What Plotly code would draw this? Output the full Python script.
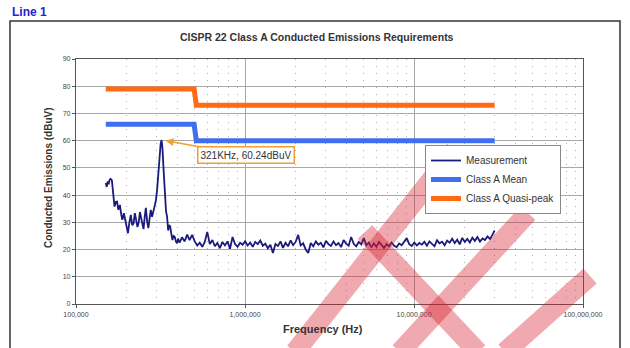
import math
import plotly.graph_objects as go

# --- Measured conducted emissions (frequency in kHz, level in dBuV) ---
meas_khz = [
    150, 152, 154, 156, 158, 160, 163, 165, 167, 169, 172, 175, 178, 182, 185, 188,
    192, 195, 199, 203, 207, 211, 215, 219, 223, 227, 231, 235, 239, 243, 247, 251,
    255, 259, 264, 268, 272, 277, 282, 287, 292, 297, 302, 307, 312, 317, 321, 325,
    330, 335, 341, 346, 351, 356, 361, 366, 372, 378, 384, 390, 396, 402,
    410, 424, 439, 455, 470, 487, 504, 522, 540, 559, 578, 598, 619, 641, 663, 686,
    710, 735, 761, 788, 815, 844, 873, 904, 935, 968, 1002, 1037, 1073, 1111, 1150,
    1190, 1231, 1275, 1319, 1365, 1413, 1463, 1514, 1567, 1622, 1678, 1737, 1798,
    1861, 1926, 1993, 2063, 2135, 2210, 2287, 2367, 2450, 2536, 2625, 2716, 2811,
    2910, 3012, 3117, 3226, 3339, 3456, 3577, 3702, 3832, 3966, 4105, 4248, 4397,
    4551, 4710, 4875, 5046, 5222, 5405, 5594, 5790, 5993, 6202, 6420, 6644, 6877,
    7118, 7367, 7625, 7891, 8168, 8453, 8749, 9056, 9373, 9701, 10040, 10392, 10756,
    11132, 11522, 11925, 12342, 12774, 13221, 13684, 14163, 14659, 15172, 15703,
    16252, 16821, 17410, 18019, 18650, 19302, 19978, 20677, 21401, 22150, 22925,
    23728, 24558, 25418, 26307, 27228, 28181, 29168, 30000,
]
meas_dbuv = [
    44.5, 43.0, 45.0, 44.0, 45.5, 46.0, 45.5, 42.0, 38.0, 35.8, 37.5, 37.6, 34.6, 36.4, 33.0, 30.9,
    33.4, 31.0, 28.0, 26.0, 30.0, 32.7, 29.0, 29.5, 33.4, 31.0, 28.3, 30.0, 33.8, 31.5, 29.0, 27.5,
    32.0, 35.3, 30.0, 27.9, 31.0, 34.6, 32.0, 34.0, 36.4, 38.0, 42.0, 48.0, 55.0, 59.0, 60.24, 57.0,
    49.0, 39.4, 34.0, 32.0, 27.0, 29.0, 28.4, 26.0, 23.5, 25.0, 24.7, 23.0, 22.3, 24.0,
    22.5, 24.5, 23.0, 25.5, 23.5, 25.4, 23.0, 21.5, 22.5, 21.0, 22.8, 26.5, 22.0, 23.5, 21.2, 22.4,
    20.5, 22.8, 21.5, 23.0, 20.3, 24.6, 22.0, 21.0, 22.5, 21.8, 23.0, 21.5, 22.6, 21.0, 22.8,
    22.0, 23.3, 21.4, 22.2, 20.5, 21.8, 18.7, 22.0, 21.3, 23.0, 20.6, 22.5, 21.2,
    23.4, 21.6, 22.8, 25.4, 21.5, 22.3, 20.0, 18.7, 22.4, 21.2, 23.0, 21.8, 22.5,
    20.8, 23.2, 22.0, 21.3, 23.0, 21.6, 22.4, 20.9, 23.5, 22.2, 21.4, 24.6, 22.1,
    21.2, 22.8, 21.9, 24.2, 21.6, 22.6, 20.8, 22.3, 21.0, 22.8, 21.5, 20.6, 22.0,
    21.2, 22.6, 21.4, 20.9, 22.2, 21.6, 22.8, 24.2, 22.0, 21.3, 22.6, 21.5, 22.4,
    21.8, 22.9, 21.4, 23.0, 22.1, 21.2, 23.4, 22.3, 22.9, 21.6, 23.3,
    22.5, 24.0, 22.4, 23.6, 21.9, 24.3, 22.8, 23.9, 22.6, 24.4, 23.2,
    24.6, 22.9, 24.1, 23.5, 24.8, 23.9, 25.5, 27.0,
]

# --- CISPR 22 Class A limits ---
limit_hz = [150e3, 500e3, 515e3, 30e6]
mean_limit = [66, 66, 60, 60]
qp_limit = [79, 79, 73, 73]

# --- Peak marker ---
peak_hz = 321e3
peak_dbuv = 60.24
peak_label = "321KHz, 60.24dBuV"

y_ticks = [0, 10, 20, 30, 40, 50, 60, 70, 80, 90]
x_tick_hz = [1e5, 1e6, 1e7, 1e8]
x_tick_text = ["100,000", "1,000,000", "10,000,000", "100,000,000"]

W, H = 630, 348
L, R, T, B = 76, 583, 59, 304   # plot area edges in pixels


def px(p):
    return (p - L) / (R - L)


def py(p):
    return (B - p) / (B - T)


FONT = "Arial, Liberation Sans, sans-serif"

fig = go.Figure()
fig.add_trace(go.Scatter(
    x=[k * 1000 for k in meas_khz], y=meas_dbuv, mode="lines", name="Measurement",
    line=dict(color="#1b1b7d", width=1.8),
))
fig.add_trace(go.Scatter(
    x=limit_hz, y=mean_limit, mode="lines", name="Class A Mean",
    line=dict(color="#3f6ff0", width=5),
))
fig.add_trace(go.Scatter(
    x=limit_hz, y=qp_limit, mode="lines", name="Class A Quasi-peak",
    line=dict(color="#ff6a12", width=5),
))

grid = "#a8a8a8"
fig.update_xaxes(
    type="log", range=[5, 8], tickvals=x_tick_hz, ticktext=x_tick_text,
    showgrid=True, gridcolor=grid, gridwidth=1,
    showline=True, linecolor="#555", linewidth=1.2, mirror=True,
    ticks="outside", ticklen=3, tickcolor="#555",
    tickfont=dict(family=FONT, size=7, color="#444"),
    minor=dict(dtick="D1", showgrid=True, griddash="1px,6px", gridcolor="#b0b0b0", gridwidth=1),
    zeroline=False,
)
fig.update_yaxes(
    range=[0, 90], tickvals=y_ticks,
    showgrid=True, gridcolor=grid, gridwidth=1,
    showline=True, linecolor="#555", linewidth=1.2, mirror=True,
    ticks="outside", ticklen=3, tickcolor="#555",
    tickfont=dict(family=FONT, size=7, color="#444"),
    zeroline=False,
)

annotations = [
    dict(text="<b>Line 1</b>", xref="paper", yref="paper", x=px(10), y=py(12),
         xanchor="left", yanchor="middle", showarrow=False,
         font=dict(family=FONT, size=12, color="#2424d0")),
    dict(text="<b>CISPR 22 Class A Conducted Emissions Requirements</b>",
         xref="paper", yref="paper", x=px(317), y=py(37), xanchor="center", yanchor="middle",
         showarrow=False, font=dict(family=FONT, size=10.5, color="#333")),
    dict(text="<b>Conducted Emissions (dBuV)</b>", xref="paper", yref="paper",
         x=px(48), y=py(178), textangle=-90, xanchor="center", yanchor="middle",
         showarrow=False, font=dict(family=FONT, size=10, color="#333")),
    dict(text="<b>Frequency (Hz)</b>", xref="paper", yref="paper",
         x=px(323), y=py(329), xanchor="center", yanchor="middle",
         showarrow=False, font=dict(family=FONT, size=11, color="#333")),
    dict(text=peak_label, x=math.log10(peak_hz), y=peak_dbuv, xref="x", yref="y",
         showarrow=True, ax=84, ay=15, arrowhead=2, arrowsize=1, arrowwidth=1.6,
         arrowcolor="#f0a030", standoff=4, bordercolor="#f0a030", borderwidth=1.5,
         borderpad=2, bgcolor="white",
         font=dict(family=FONT, size=10, color="#333")),
]

# outer frame around the chart
shapes = [
    dict(type="rect", xref="paper", yref="paper", x0=px(10), x1=px(620), y0=py(352), y1=py(21),
         line=dict(color="#333", width=1.5), fillcolor="rgba(0,0,0,0)", layer="below"),
]

# translucent red stamp strokes over the chart
stamp = "rgba(212,30,45,0.38)"
for (x0, y0, x1, y1) in [(295, 352, 455, 150), (365, 232, 478, 352),
                         (400, 352, 528, 213), (505, 352, 590, 276)]:
    shapes.append(dict(type="line", xref="paper", yref="paper",
                       x0=px(x0), y0=py(y0), x1=px(x1), y1=py(y1),
                       line=dict(color=stamp, width=20), layer="above"))

fig.update_layout(
    width=W, height=H,
    margin=dict(l=L, r=W - R, t=T, b=H - B, pad=0),
    paper_bgcolor="white", plot_bgcolor="white",
    showlegend=True,
    legend=dict(x=px(425), y=py(145), xanchor="left", yanchor="top",
                bordercolor="#888", borderwidth=1, bgcolor="white",
                font=dict(family=FONT, size=10, color="#333"),
                itemwidth=30, tracegroupgap=0),
    annotations=annotations,
    shapes=shapes,
    font=dict(family=FONT),
)

fig.write_html("out.html")
